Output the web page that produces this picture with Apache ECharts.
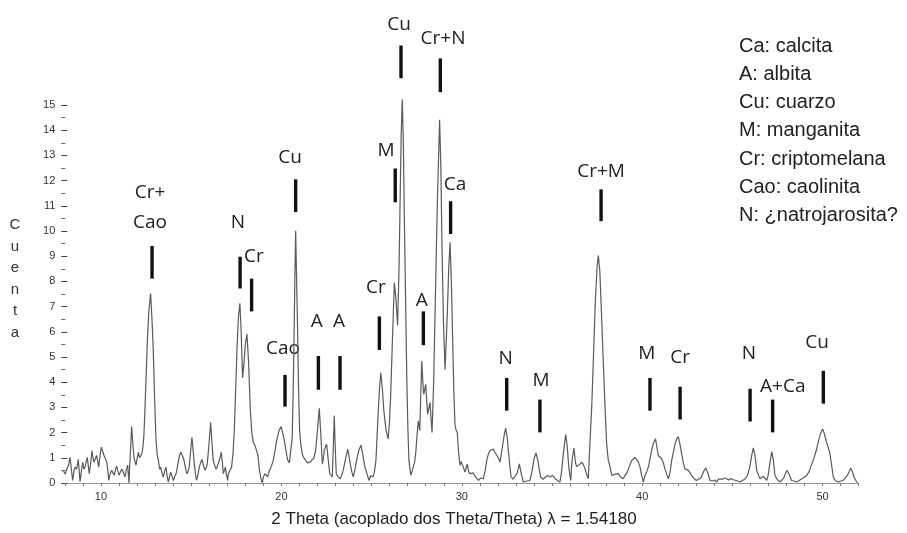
<!DOCTYPE html>
<html>
<head>
<meta charset="utf-8">
<script src="https://cdn.jsdelivr.net/npm/echarts@6/dist/echarts.min.js"></script>
<style>html,body{margin:0;padding:0;background:#fff}#c{width:907px;height:533px}</style>
</head>
<body>
<div id="c"></div>
<script>
// ---- data ----
const twoTheta = [7.90,8.02,8.10,8.20,8.28,8.36,8.43,8.50,8.56,8.65,8.74,8.80,8.84,8.92,8.99,9.05,9.11,9.18,9.24,9.30,9.35,9.43,9.50,9.56,9.61,9.68,9.76,9.82,9.87,9.95,10.02,10.10,10.17,10.25,10.32,10.38,10.43,10.50,10.59,10.66,10.74,10.80,10.87,10.94,11.01,11.08,11.16,11.25,11.33,11.40,11.48,11.55,11.61,11.70,11.77,11.83,11.90,11.94,12.00,12.07,12.14,12.20,12.26,12.31,12.38,12.44,12.50,12.57,12.65,12.75,12.82,12.90,12.97,13.05,13.12,13.18,13.25,13.31,13.38,13.45,13.52,13.60,13.66,13.73,13.80,13.86,13.93,14.01,14.08,14.16,14.25,14.34,14.42,14.50,14.60,14.68,14.75,14.82,14.89,14.96,15.04,15.12,15.19,15.25,15.30,15.38,15.45,15.52,15.60,15.68,15.76,15.83,15.89,15.98,16.08,16.15,16.22,16.30,16.37,16.45,16.52,16.60,16.67,16.73,16.78,16.84,16.89,16.95,17.02,17.06,17.15,17.24,17.32,17.39,17.46,17.54,17.62,17.70,17.77,17.85,17.92,18.00,18.09,18.18,18.28,18.36,18.44,18.53,18.63,18.70,18.78,18.86,18.94,19.01,19.09,19.16,19.24,19.31,19.38,19.46,19.55,19.65,19.74,19.86,19.98,20.07,20.16,20.25,20.35,20.44,20.53,20.60,20.68,20.74,20.79,20.84,20.90,20.95,21.01,21.08,21.16,21.25,21.35,21.44,21.53,21.62,21.71,21.80,21.90,22.00,22.10,22.18,22.27,22.33,22.38,22.45,22.51,22.60,22.68,22.75,22.82,22.88,22.93,22.98,23.04,23.14,23.25,23.34,23.43,23.55,23.68,23.75,23.82,23.90,23.99,24.08,24.17,24.29,24.41,24.52,24.63,24.75,24.86,24.95,25.04,25.09,25.17,25.24,25.30,25.37,25.44,25.51,25.60,25.68,25.80,25.92,25.99,26.06,26.16,26.26,26.35,26.44,26.52,26.57,26.64,26.70,26.76,26.81,26.88,26.95,27.01,27.07,27.17,27.24,27.31,27.39,27.46,27.53,27.59,27.67,27.73,27.78,27.84,27.89,28.00,28.06,28.11,28.18,28.24,28.30,28.35,28.44,28.52,28.64,28.77,28.84,28.90,28.98,29.07,29.13,29.20,29.28,29.35,29.42,29.50,29.56,29.62,29.68,29.75,29.82,29.90,29.96,30.05,30.12,30.18,30.24,30.30,30.38,30.45,30.55,30.64,30.75,30.92,31.05,31.19,31.30,31.38,31.47,31.56,31.65,31.75,31.85,31.93,32.02,32.12,32.20,32.25,32.35,32.43,32.52,32.58,32.66,32.73,32.85,32.95,33.08,33.19,33.30,33.41,33.60,33.78,33.90,34.00,34.11,34.22,34.30,34.37,34.50,34.61,34.75,34.89,35.03,35.17,35.30,35.44,35.52,35.59,35.68,35.76,35.85,35.93,36.00,36.04,36.09,36.13,36.18,36.22,36.27,36.31,36.38,36.46,36.55,36.64,36.73,36.83,36.92,37.01,37.10,37.20,37.29,37.40,37.50,37.57,37.65,37.75,37.84,37.94,38.03,38.12,38.22,38.31,38.40,38.50,38.60,38.68,38.78,38.87,38.95,39.05,39.15,39.23,39.32,39.42,39.50,39.60,39.69,39.78,39.88,39.97,40.06,40.16,40.25,40.34,40.43,40.52,40.63,40.74,40.82,40.89,40.98,41.08,41.17,41.26,41.36,41.45,41.54,41.63,41.72,41.82,41.92,42.00,42.09,42.19,42.28,42.37,42.46,42.56,42.65,42.74,42.85,43.00,43.11,43.25,43.40,43.52,43.64,43.76,43.90,44.02,44.13,44.22,44.31,44.45,44.57,44.68,44.80,44.92,45.05,45.20,45.30,45.42,45.55,45.68,45.79,45.88,45.98,46.07,46.16,46.25,46.35,46.45,46.53,46.62,46.71,46.80,46.90,46.98,47.08,47.18,47.27,47.36,47.50,47.64,47.75,47.85,47.95,48.04,48.14,48.28,48.42,48.56,48.70,48.84,48.98,49.12,49.25,49.40,49.55,49.67,49.78,49.88,50.00,50.10,50.22,50.32,50.41,50.50,50.59,50.70,50.87,51.00,51.14,51.26,51.37,51.47,51.56,51.65,51.74,51.84,51.93];
const counts = [0.50,0.35,0.55,0.70,1.02,0.55,0.10,0.45,0.63,0.55,0.94,0.40,0.05,0.50,0.83,0.55,0.63,0.85,1.02,0.65,0.37,0.80,1.28,1.00,0.83,0.95,1.09,0.85,0.63,1.10,1.42,1.25,1.09,1.05,0.83,0.50,0.10,0.35,0.51,0.40,0.31,0.55,0.67,0.45,0.31,0.45,0.55,0.40,0.24,0.50,0.71,0.00,0.94,2.24,1.50,1.02,0.80,0.71,0.95,1.22,1.00,0.94,1.15,1.34,1.90,2.99,4.20,5.63,6.80,7.52,6.60,5.24,3.40,1.69,1.10,0.91,0.55,0.63,0.40,0.24,0.45,0.63,0.30,0.04,0.25,0.43,0.30,0.10,0.25,0.37,0.70,1.05,1.22,1.10,0.91,0.60,0.37,0.45,0.63,1.20,1.81,1.20,0.63,0.30,0.10,0.35,0.63,0.80,0.94,0.70,0.51,0.60,0.75,1.50,2.40,1.60,0.91,0.70,0.55,0.65,0.71,1.00,1.22,0.80,0.37,0.50,0.63,0.35,0.10,0.37,0.50,0.63,1.20,2.08,3.60,5.35,6.60,7.13,6.00,4.17,4.70,5.50,5.91,4.80,2.87,2.00,1.61,1.50,1.50,1.10,0.51,0.20,0.00,0.25,0.37,0.30,0.24,0.45,0.55,0.70,0.91,1.30,1.69,2.05,2.24,2.00,1.69,1.30,0.91,0.80,0.75,1.80,4.69,7.80,10.01,8.20,6.02,3.80,2.08,1.50,1.14,1.00,0.94,0.80,0.75,0.85,0.91,1.00,1.30,2.10,2.96,2.00,0.75,1.00,1.30,1.45,1.54,0.90,0.37,0.30,0.24,1.50,2.68,1.50,0.37,0.25,0.16,0.30,0.51,0.95,1.34,1.05,0.75,0.45,0.24,0.55,0.91,1.30,1.50,1.10,0.63,0.35,0.10,0.30,0.37,0.24,0.50,0.89,1.80,2.86,3.80,4.37,3.70,2.86,2.10,1.75,2.40,3.52,5.80,7.95,7.30,6.26,8.50,10.75,13.80,15.22,13.50,10.75,7.50,4.17,2.20,0.89,0.31,0.45,0.50,0.85,1.30,2.00,2.47,2.08,3.60,4.84,4.00,3.52,3.91,3.20,2.73,3.00,3.19,2.50,2.00,4.00,6.80,11.00,14.41,12.50,9.42,6.50,4.50,5.50,6.80,8.60,9.55,8.00,5.48,3.60,2.34,2.10,2.00,1.20,0.70,0.85,0.89,0.55,0.43,0.60,0.75,0.45,0.37,0.30,0.40,0.25,0.10,0.20,0.17,0.50,0.89,1.15,1.29,1.35,1.35,1.20,1.22,1.00,0.83,1.20,1.42,1.90,2.18,1.80,1.29,0.70,0.24,0.15,0.10,0.40,0.76,0.35,0.04,0.08,0.10,0.50,0.95,1.19,0.90,0.50,0.24,0.15,0.10,0.30,0.24,0.30,0.17,0.10,0.04,0.40,0.89,1.50,1.92,1.40,0.63,0.25,0.10,0.70,1.02,1.20,1.39,1.00,0.76,0.65,0.63,0.75,0.83,0.75,0.56,0.35,0.17,1.55,3.00,4.84,7.20,8.60,9.03,8.40,6.60,4.84,3.00,1.55,0.90,0.63,0.30,0.24,0.35,0.30,0.37,0.25,0.30,0.17,0.30,0.40,0.55,0.60,0.89,0.95,1.02,1.02,0.85,0.63,0.30,0.04,0.30,0.45,0.63,0.95,1.29,1.60,1.75,1.40,1.09,1.05,0.96,0.80,0.56,0.35,0.17,0.40,0.89,1.20,1.55,1.75,1.84,1.55,1.15,0.80,0.56,0.55,0.50,0.40,0.30,0.20,0.10,0.04,0.20,0.45,0.60,0.40,0.10,0.08,0.12,0.04,0.15,0.20,0.15,0.20,0.17,0.12,0.18,0.13,0.10,0.06,0.04,0.10,0.15,0.24,0.40,0.70,1.10,1.39,1.10,0.50,0.30,0.17,0.20,0.26,0.20,0.10,0.30,0.80,1.25,0.90,0.30,0.12,0.04,0.10,0.20,0.40,0.50,0.35,0.10,0.08,0.04,0.10,0.17,0.22,0.30,0.45,0.76,1.05,1.35,1.70,1.95,2.14,1.95,1.61,1.40,1.15,0.70,0.24,0.10,0.04,0.08,0.10,0.20,0.30,0.45,0.60,0.45,0.24,0.10,0.00];

// peak annotations (2θ / counts units)
const peakLabels = ['Cr+\nCao','N','Cr','Cao','Cu','A','A','Cr','M','Cu','Cr+N','A','Ca','N','M','Cr+M','M','Cr','N','A+Ca','Cu'];
const peakBarX = [12.83,17.71,18.35,20.20,20.79,22.05,23.25,25.43,26.31,26.63,28.81,27.87,29.38,32.49,34.33,37.72,40.43,42.10,45.98,47.23,50.04];
const peakBarTop = [9.41,8.98,8.11,4.29,12.05,5.04,5.04,6.61,12.48,17.36,16.85,6.81,11.18,4.17,3.31,11.65,4.17,3.82,3.74,3.31,4.45];
const peakBarBottom = [8.11,7.72,6.81,3.03,10.75,3.70,3.70,5.28,11.14,16.06,15.51,5.47,9.88,2.87,2.01,10.39,2.87,2.52,2.44,2.01,3.15];
const peakLabelX = [12.72,17.59,18.48,20.09,20.48,21.96,23.19,25.24,25.80,26.52,28.96,27.78,29.62,32.43,34.39,37.72,40.25,42.10,45.92,47.79,49.69];
const peakLabelY = [10.94,10.35,8.98,5.35,12.91,6.42,6.42,7.76,13.19,18.19,17.64,7.24,11.85,4.92,4.06,12.36,5.12,4.96,5.12,3.82,5.59];

const xTickLabels = [10,20,30,40,50];
const xMinorTicks = [8,9,10,11,12,13,14,15,16,17,18,19,20,21,22,23,24,25,26,27,28,29,30,31,32,33,34,35,36,37,38,39,40,41,42,43,44,45,46,47,48,49,50,51,52];
const legendLines = ['Ca: calcita','A: albita','Cu: cuarzo','M: manganita','Cr: criptomelana','Cao: caolinita','N: ¿natrojarosita?'];
const yAxisTitle = 'Cuenta';
const xAxisTitle = '2 Theta (acoplado dos Theta/Theta) λ = 1.54180';

// ---- chart ----
const lineData = twoTheta.map((t, i) => [t, counts[i]]);
const annData = peakLabels.map((l, i) => [peakBarX[i], peakBarTop[i], peakBarBottom[i], peakLabelX[i], peakLabelY[i]]);

const chart = echarts.init(document.getElementById('c'), null, {renderer: 'canvas'});
const sans = '"Liberation Sans", Arial, sans-serif';
chart.setOption({
  animation: false,
  backgroundColor: '#fff',
  grid: {left: 61.3, right: 48.3, top: 105, bottom: 47, containLabel: false},
  xAxis: {
    type: 'value', min: 7.8, max: 52,
    name: xAxisTitle, nameLocation: 'middle', nameGap: 28,
    nameTextStyle: {fontFamily: sans, fontSize: 17, color: '#222', padding: [0, 12, 0, 0]},
    axisLine: {show: true, lineStyle: {color: '#9a9a9a', width: 1}},
    axisTick: {show: true, customValues: xMinorTicks, length: 3, lineStyle: {color: '#777'}},
    axisLabel: {customValues: xTickLabels, fontFamily: sans, fontSize: 11, color: '#333', margin: 8},
    splitLine: {show: false}
  },
  yAxis: {
    type: 'value', min: 0, max: 15, interval: 1,
    axisLine: {show: false},
    axisTick: {show: true, inside: true, length: 6, lineStyle: {color: '#444'}},
    minorTick: {show: true, splitNumber: 2, length: 4, lineStyle: {color: '#666'}},
    axisLabel: {fontFamily: sans, fontSize: 11, color: '#333', margin: 6},
    splitLine: {show: false}
  },
  graphic: [
    {type: 'text', x: 15, y: 214, style: {text: yAxisTitle.split('').join('\n'), font: '15px ' + sans, fill: '#333', align: 'center', verticalAlign: 'top', lineHeight: 21.6}},
    {type: 'text', x: 739, y: 32.6, style: {text: legendLines.join('\n'), font: '20px ' + sans, fill: '#222', align: 'left', verticalAlign: 'top', lineHeight: 28.1}}
  ],
  series: [
    {
      type: 'line', data: lineData, showSymbol: false, clip: false,
      lineStyle: {color: '#5a5a5a', width: 1.2}, silent: true
    },
    {
      type: 'custom', data: annData, clip: false, silent: true,
      renderItem: function (params, api) {
        const p1 = api.coord([api.value(0), api.value(1)]);
        const p2 = api.coord([api.value(0), api.value(2)]);
        const pl = api.coord([api.value(3), api.value(4)]);
        return {type: 'group', children: [
          {type: 'rect', shape: {x: p1[0] - 1.7, y: p1[1], width: 3.4, height: p2[1] - p1[1]}, style: {fill: '#111'}},
          {type: 'text', x: pl[0], y: pl[1], style: {text: peakLabels[params.dataIndex], font: '19px "Open Sans", "Noto Sans", sans-serif', fill: '#222', align: 'center', verticalAlign: 'middle', lineHeight: 30}}
        ]};
      }
    }
  ]
});
</script>
</body>
</html>
